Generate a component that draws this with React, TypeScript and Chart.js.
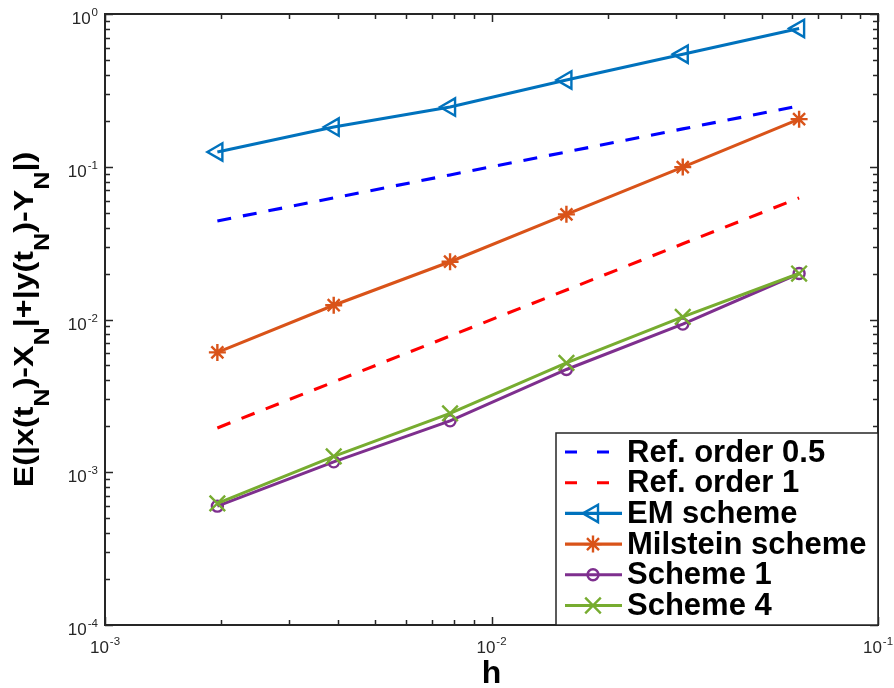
import React, { useEffect, useRef } from "react";
import { Chart, registerables } from "chart.js";

Chart.register(...registerables);

// ---- data ----
const hValues = [0.001953125, 0.00390625, 0.0078125, 0.015625, 0.03125, 0.0625];
const refHalf = [0.0442, 0.0625, 0.0884, 0.125, 0.177, 0.25];
const refOne = [0.00195, 0.0039, 0.0078, 0.0156, 0.0313, 0.0625];
const emScheme = [0.125, 0.182, 0.246, 0.37, 0.546, 0.805];
const milsteinScheme = [0.00609, 0.0124, 0.0239, 0.0488, 0.0995, 0.205];
const scheme1 = [0.0006, 0.00117, 0.00217, 0.00471, 0.00933, 0.02];
const scheme4 = [0.000625, 0.00127, 0.00243, 0.0052, 0.0104, 0.02];

const seriesLabels = [
  "Ref. order 0.5",
  "Ref. order 1",
  "EM scheme",
  "Milstein scheme",
  "Scheme 1",
  "Scheme 4",
];
const seriesValues = [refHalf, refOne, emScheme, milsteinScheme, scheme1, scheme4];

const xTickExps = [-3, -2, -1];
const yTickExps = [-4, -3, -2, -1, 0];
const xAxisLabel = "h";
const yAxisParts: [string, boolean][] = [
  ["E(|x(t", false],
  ["N", true],
  [")-X", false],
  ["N", true],
  ["|+|y(t", false],
  ["N", true],
  [")-Y", false],
  ["N", true],
  ["|)", false],
];

// ---- styles ----
type SeriesStyle = {
  color: string;
  dash: number[];
  marker: string | null;
  radius: number;
  rotation: number;
};
const seriesStyles: SeriesStyle[] = [
  { color: "#0000FF", dash: [14, 12], marker: null, radius: 0, rotation: 0 },
  { color: "#FF0000", dash: [14, 12], marker: null, radius: 0, rotation: 0 },
  { color: "#0072BD", dash: [], marker: "triangle", radius: 10, rotation: -90 },
  { color: "#D95319", dash: [], marker: "star", radius: 8.5, rotation: 0 },
  { color: "#7E2F8E", dash: [], marker: "circle", radius: 5.5, rotation: 0 },
  { color: "#77AC30", dash: [], marker: "crossRot", radius: 11, rotation: 0 },
];

const FONT = '"Liberation Sans", Arial, Helvetica, sans-serif';
const AXIS_COLOR = "#262626";
const LINE_W = 3.1;
const MARKER_W = 2.4;

function drawMarker(
  ctx: CanvasRenderingContext2D,
  style: string,
  x: number,
  y: number,
  r: number,
  rotation: number
) {
  ctx.beginPath();
  if (style === "triangle") {
    let rad = (rotation * Math.PI) / 180;
    for (let i = 0; i < 3; i++) {
      const px = x + Math.sin(rad) * r;
      const py = y - Math.cos(rad) * r;
      if (i === 0) ctx.moveTo(px, py);
      else ctx.lineTo(px, py);
      rad += (2 * Math.PI) / 3;
    }
    ctx.closePath();
  } else if (style === "circle") {
    ctx.arc(x, y, r, 0, Math.PI * 2);
  } else if (style === "star") {
    ctx.moveTo(x, y - r);
    ctx.lineTo(x, y + r);
    ctx.moveTo(x - r, y);
    ctx.lineTo(x + r, y);
    const d = Math.cos(Math.PI / 4) * r;
    ctx.moveTo(x - d, y - d);
    ctx.lineTo(x + d, y + d);
    ctx.moveTo(x - d, y + d);
    ctx.lineTo(x + d, y - d);
  } else if (style === "crossRot") {
    const d = Math.cos(Math.PI / 4) * r;
    ctx.moveTo(x - d, y - d);
    ctx.lineTo(x + d, y + d);
    ctx.moveTo(x - d, y + d);
    ctx.lineTo(x + d, y - d);
  }
  ctx.stroke();
}

function drawPower(
  ctx: CanvasRenderingContext2D,
  exp: number,
  x: number,
  y: number,
  align: "center" | "right"
) {
  const base = "10";
  const sup = String(exp);
  ctx.font = `17px ${FONT}`;
  const wb = ctx.measureText(base).width;
  ctx.font = `11.5px ${FONT}`;
  const ws = ctx.measureText(sup).width;
  const total = wb + ws + 1;
  const start = align === "center" ? x - total / 2 : x - total;
  ctx.textAlign = "left";
  ctx.textBaseline = "alphabetic";
  ctx.font = `17px ${FONT}`;
  ctx.fillText(base, start, y);
  ctx.font = `11.5px ${FONT}`;
  ctx.fillText(sup, start + wb + 1, y - 8);
}

const decorPlugin = {
  id: "matlabDecor",
  beforeDraw(chart: any) {
    const ctx = chart.ctx as CanvasRenderingContext2D;
    ctx.save();
    ctx.fillStyle = "#ffffff";
    ctx.fillRect(0, 0, chart.width, chart.height);
    ctx.restore();
  },
  afterDraw(chart: any) {
    const ctx = chart.ctx as CanvasRenderingContext2D;
    const { left, right, top, bottom } = chart.chartArea;
    const xs = chart.scales.x;
    const ys = chart.scales.y;
    ctx.save();
    ctx.strokeStyle = AXIS_COLOR;
    ctx.fillStyle = AXIS_COLOR;
    ctx.lineWidth = 1.5;
    ctx.setLineDash([]);

    // ticks
    const majorLen = 8;
    const minorLen = 5;
    ctx.beginPath();
    xTickExps.forEach((e, i) => {
      for (let m = 1; m <= 9; m++) {
        if (m > 1 && i === xTickExps.length - 1) break;
        const v = m * Math.pow(10, e);
        const px = Math.round(xs.getPixelForValue(v)) + 0.5;
        const len = m === 1 ? majorLen : minorLen;
        ctx.moveTo(px, bottom);
        ctx.lineTo(px, bottom - len);
        ctx.moveTo(px, top);
        ctx.lineTo(px, top + len);
      }
    });
    yTickExps.forEach((e, i) => {
      for (let m = 1; m <= 9; m++) {
        if (m > 1 && i === yTickExps.length - 1) break;
        const v = m * Math.pow(10, e);
        const py = Math.round(ys.getPixelForValue(v)) + 0.5;
        const len = m === 1 ? majorLen : minorLen;
        ctx.moveTo(left, py);
        ctx.lineTo(left + len, py);
        ctx.moveTo(right, py);
        ctx.lineTo(right - len, py);
      }
    });
    ctx.stroke();

    // axes box
    ctx.lineWidth = 2;
    ctx.strokeRect(left, top, right - left, bottom - top);

    // tick labels
    xTickExps.forEach((e) => {
      const px = xs.getPixelForValue(Math.pow(10, e));
      drawPower(ctx, e, px, bottom + 28, "center");
    });
    yTickExps.forEach((e) => {
      const py = ys.getPixelForValue(Math.pow(10, e));
      drawPower(ctx, e, left - 7, py + 10, "right");
    });

    // axis labels
    ctx.fillStyle = "#000000";
    ctx.font = `bold 32px ${FONT}`;
    ctx.textAlign = "center";
    ctx.textBaseline = "alphabetic";
    ctx.fillText(xAxisLabel, (left + right) / 2, 683);

    const mainFont = `bold 28px ${FONT}`;
    const subFont = `bold 22px ${FONT}`;
    let total = 0;
    yAxisParts.forEach(([t, sub]) => {
      ctx.font = sub ? subFont : mainFont;
      total += ctx.measureText(t).width;
    });
    ctx.save();
    ctx.translate(33, (top + bottom) / 2);
    ctx.rotate(-Math.PI / 2);
    ctx.scale(1.15, 1);
    ctx.textAlign = "left";
    let cx = -total / 2;
    yAxisParts.forEach(([t, sub]) => {
      ctx.font = sub ? subFont : mainFont;
      ctx.fillText(t, cx, sub ? 16 : 0);
      cx += ctx.measureText(t).width;
    });
    ctx.restore();

    // legend
    const lw = 322;
    const lh = 192;
    const lx = right - lw;
    const ly = bottom - lh;
    ctx.fillStyle = "#ffffff";
    ctx.fillRect(lx, ly, lw, lh);
    ctx.strokeStyle = AXIS_COLOR;
    ctx.lineWidth = 1.5;
    ctx.strokeRect(lx, ly, lw, lh);
    seriesLabels.forEach((label, i) => {
      const st = seriesStyles[i];
      const cy = ly + 19 + i * 30.7;
      ctx.strokeStyle = st.color;
      ctx.lineWidth = LINE_W;
      ctx.lineCap = "butt";
      if (st.dash.length) ctx.setLineDash([12, 20]);
      else ctx.setLineDash([]);
      ctx.beginPath();
      ctx.moveTo(lx + 9, cy);
      ctx.lineTo(lx + 66, cy);
      ctx.stroke();
      ctx.setLineDash([]);
      if (st.marker) {
        ctx.lineWidth = MARKER_W;
        drawMarker(ctx, st.marker, lx + 37, cy, st.radius, st.rotation);
      }
      ctx.fillStyle = "#000000";
      ctx.font = `bold 31px ${FONT}`;
      ctx.textAlign = "left";
      ctx.textBaseline = "middle";
      ctx.fillText(label, lx + 71, cy + 1);
    });
    ctx.restore();
  },
};

export default function App() {
  const canvasRef = useRef<HTMLCanvasElement | null>(null);

  useEffect(() => {
    const canvas = canvasRef.current;
    if (!canvas) return;
    const datasets = seriesLabels.map((label, i) => {
      const st = seriesStyles[i];
      return {
        label,
        data: hValues.map((h, j) => ({ x: h, y: seriesValues[i][j] })),
        borderColor: st.color,
        borderWidth: LINE_W,
        borderDash: st.dash,
        borderCapStyle: "butt" as const,
        fill: false,
        tension: 0,
        pointStyle: (st.marker || "circle") as any,
        pointRadius: st.marker ? st.radius : 0,
        pointRotation: st.rotation,
        pointBorderColor: st.color,
        pointBackgroundColor: "rgba(0,0,0,0)",
        pointBorderWidth: MARKER_W,
        pointHoverRadius: st.marker ? st.radius : 0,
        order: seriesLabels.length - i,
        clip: 12,
      };
    });
    const chart = new Chart(canvas, {
      type: "line",
      data: { datasets },
      options: {
        responsive: false,
        animation: false,
        devicePixelRatio: 1,
        layout: { padding: { left: 105, top: 14, right: 16, bottom: 63 } },
        scales: {
          x: { type: "logarithmic", min: 0.001, max: 0.1, display: false },
          y: { type: "logarithmic", min: 0.0001, max: 1, display: false },
        },
        plugins: {
          legend: { display: false },
          tooltip: { enabled: false },
        },
        events: [],
      },
      plugins: [decorPlugin],
    });
    return () => chart.destroy();
  }, []);

  return (
    <div style={{ position: "absolute", left: 0, top: 0, width: 894, height: 688, background: "#fff" }}>
      <canvas ref={canvasRef} width={894} height={688} style={{ display: "block" }} />
    </div>
  );
}
